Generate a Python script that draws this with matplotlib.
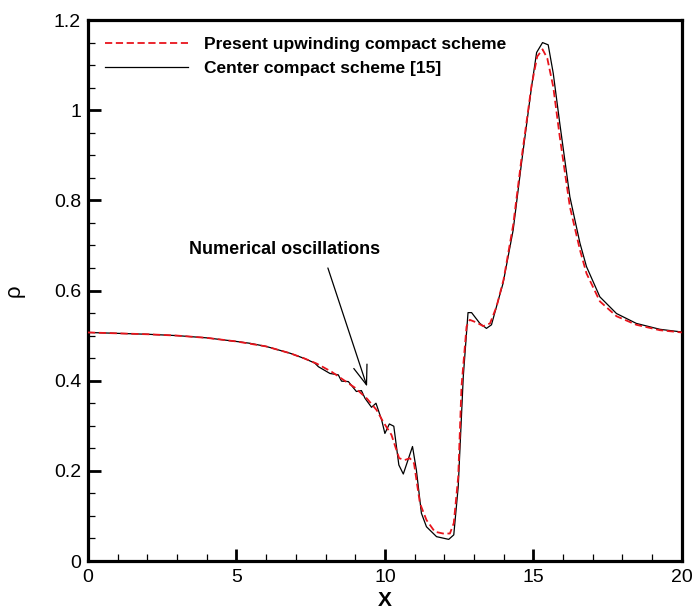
import matplotlib.pyplot as plt
from matplotlib.ticker import MultipleLocator

plt.rcParams['font.family'] = ['Liberation Sans', 'DejaVu Sans']

# Center compact scheme [15] (black, solid)
x_center = [0, 1, 2, 3, 4, 5, 5.45, 6, 6.8, 7.3, 7.64, 7.76, 8.15, 8.43, 8.54,
            8.77, 9.04, 9.21, 9.33, 9.55, 9.70, 9.89, 10.0, 10.15, 10.30, 10.47,
            10.62, 10.93, 11.06, 11.23, 11.40, 11.74, 12.15, 12.32, 12.47, 12.64,
            12.80, 12.92, 13.2, 13.42, 13.59, 13.82, 13.98, 14.32, 14.60, 14.94,
            15.11, 15.31, 15.5, 15.67, 15.89, 16.23, 16.57, 16.79, 17.24, 17.80,
            18.47, 19.26, 20]
rho_center = [0.507, 0.505, 0.503, 0.500, 0.495, 0.487, 0.483, 0.476, 0.461,
              0.449, 0.439, 0.431, 0.416, 0.413, 0.399, 0.398, 0.376, 0.378,
              0.361, 0.341, 0.350, 0.313, 0.283, 0.304, 0.299, 0.213, 0.193,
              0.254, 0.202, 0.106, 0.076, 0.054, 0.048, 0.058, 0.165, 0.409,
              0.551, 0.551, 0.527, 0.516, 0.524, 0.579, 0.616, 0.734, 0.882,
              1.052, 1.128, 1.150, 1.145, 1.082, 0.971, 0.808, 0.705, 0.653,
              0.586, 0.549, 0.527, 0.514, 0.508]

# Present upwinding compact scheme (red, dashed)
x_present = [0, 1, 2, 3, 4, 5, 6, 6.8, 7.3, 7.7, 8.2, 8.6, 9.0, 9.4, 9.72, 9.94,
             10.22, 10.48, 10.67, 10.84, 10.98, 11.18, 11.40, 11.68, 11.96, 12.19,
             12.32, 12.47, 12.58, 12.75, 12.86, 13.09, 13.31, 13.54, 13.76, 14.0,
             14.32, 14.60, 14.94, 15.13, 15.31, 15.47, 15.67, 15.89, 16.23, 16.57,
             16.79, 17.24, 17.80, 18.47, 19.26, 20]
rho_present = [0.507, 0.505, 0.503, 0.500, 0.495, 0.487, 0.476, 0.461, 0.449,
               0.438, 0.420, 0.402, 0.384, 0.360, 0.335, 0.309, 0.280, 0.228,
               0.224, 0.228, 0.217, 0.128, 0.091, 0.065, 0.061, 0.061, 0.084,
               0.187, 0.387, 0.520, 0.535, 0.529, 0.521, 0.527, 0.564, 0.625,
               0.745, 0.892, 1.055, 1.119, 1.135, 1.115, 1.052, 0.941, 0.786,
               0.690, 0.638, 0.576, 0.543, 0.524, 0.512, 0.507]

labels = ['Present upwinding compact scheme', 'Center compact scheme [15]']

fig = plt.figure(figsize=(6.95, 6.09), dpi=100)
ax = fig.add_axes([0.1266, 0.0788, 0.8544, 0.8883])

ax.plot(x_present, rho_present, color='#e8141c', ls='--', lw=1.3,
        dashes=(4, 2), label=labels[0], zorder=3)
ax.plot(x_center, rho_center, color='black', lw=0.9, label=labels[1], zorder=2)

ax.set_xlim(0, 20)
ax.set_ylim(0, 1.2)
ax.xaxis.set_major_locator(MultipleLocator(5))
ax.xaxis.set_minor_locator(MultipleLocator(1))
ax.yaxis.set_major_locator(MultipleLocator(0.2))
ax.yaxis.set_minor_locator(MultipleLocator(0.05))
ax.yaxis.set_major_formatter(lambda v, p: f'{v:g}')
ax.xaxis.set_major_formatter(lambda v, p: f'{v:g}')

for s in ax.spines.values():
    s.set_linewidth(2.3)
ax.tick_params(which='major', direction='in', length=9, width=2, labelsize=14, pad=5)
ax.tick_params(axis='x', which='major', pad=6)
ax.tick_params(which='minor', direction='in', length=5, width=0.9)
ax.tick_params(top=False, right=False, which='both')

ax.set_xlabel('X', fontsize=15, fontweight='bold')
ax.xaxis.set_label_coords(0.5, -0.055)
ax.set_ylabel('ρ', fontsize=16)
ax.yaxis.set_label_coords(-0.106, 0.5)

leg = ax.legend(loc='upper left', bbox_to_anchor=(0.0286, 0.969), frameon=False,
                borderpad=0, borderaxespad=0, handlelength=4.77, handletextpad=0.92,
                labelspacing=0.5, prop={'weight': 'bold', 'size': 12.5})

ax.text(6.62, 0.69, 'Numerical oscillations', ha='center', va='center',
        fontsize=13, fontweight='bold')
ax.annotate('', xy=(9.40, 0.387), xytext=(8.08, 0.65),
            arrowprops=dict(arrowstyle='->,head_length=1.4,head_width=0.5',
                            lw=0.9, color='black', mutation_scale=10,
                            shrinkA=0, shrinkB=0))

fig.savefig('out.png', dpi=100)
